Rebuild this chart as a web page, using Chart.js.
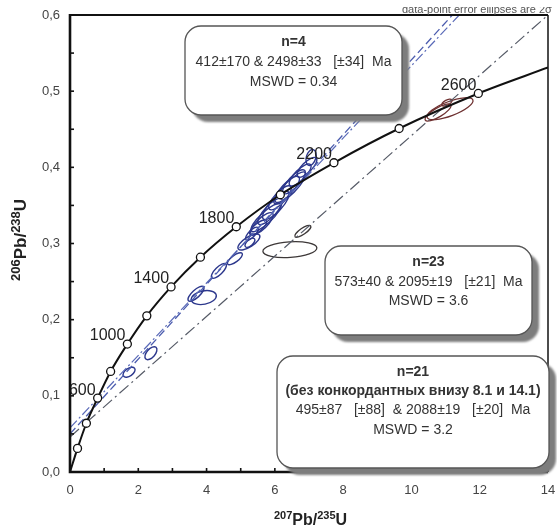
<!DOCTYPE html>
<html><head><meta charset="utf-8">
<script src="https://cdn.jsdelivr.net/npm/chart.js@4.4.1/dist/chart.umd.min.js"></script>
<style>html,body{margin:0;padding:0;background:#fff;overflow:hidden}canvas{display:block}</style>
</head><body>
<canvas id="c" width="557" height="528"></canvas>
<script>
// ---------- DATA ----------
// Concordia curve points (207Pb/235U, 206Pb/238U)
const concordiaX = [0, 0.22, 0.48, 0.81, 1.19, 1.68, 2.25, 2.96, 3.82, 4.87, 6.16, 7.73, 9.64, 11.96, 14];
const concordiaY = [0, 0.031, 0.064, 0.097, 0.132, 0.168, 0.205, 0.243, 0.282, 0.322, 0.364, 0.406, 0.451, 0.497, 0.531];
// Age markers (every 200 Ma)
const markerAges = [200, 400, 600, 800, 1000, 1200, 1400, 1600, 1800, 2000, 2200, 2400, 2600];
const markerX = [0.22, 0.48, 0.81, 1.19, 1.68, 2.25, 2.96, 3.82, 4.87, 6.16, 7.73, 9.64, 11.96];
const markerY = [0.031, 0.064, 0.097, 0.132, 0.168, 0.205, 0.243, 0.282, 0.322, 0.364, 0.406, 0.451, 0.497];
// Age labels shown on the curve
const ageLabels = ['600', '1000', '1400', '1800', '2200', '2600'];
const ageLabelX = [0.81, 1.68, 2.96, 4.87, 7.73, 11.96];
const ageLabelY = [0.097, 0.168, 0.243, 0.322, 0.406, 0.497];

// Discordia lines (end points)
const discN4X = [0, 14];     const discN4Y = [0.046, 0.600];
const discN23X = [0, 11.4];  const discN23Y = [0.058, 0.600];
const discN21X = [0, 11.2];  const discN21Y = [0.050, 0.600];

// Error ellipses: centre x, centre y, half extent x, half extent y, correlation
const blueX   = [1.73, 2.37, 3.92, 3.69, 4.36, 4.83, 5.24, 5.27, 5.33, 5.62, 5.86, 6.03, 6.15, 6.36, 6.56, 6.74, 6.94, 7.06, 5.74, 6.44, 5.51];
const blueY   = [0.131, 0.156, 0.229, 0.234, 0.264, 0.280, 0.302, 0.301, 0.313, 0.326, 0.342, 0.350, 0.360, 0.371, 0.381, 0.390, 0.400, 0.413, 0.334, 0.373, 0.321];
const blueEx  = [0.176, 0.176, 0.366, 0.234, 0.22, 0.22, 0.322, 0.146, 0.19, 0.33, 0.36, 0.39, 0.33, 0.36, 0.33, 0.32, 0.29, 0.15, 0.44, 0.47, 0.25];
const blueEy  = [0.0066, 0.0085, 0.0092, 0.0098, 0.0098, 0.0079, 0.0105, 0.0059, 0.0085, 0.0145, 0.0172, 0.0186, 0.0158, 0.0172, 0.0158, 0.0145, 0.013, 0.0105, 0.0185, 0.021, 0.0098];
const blueRho = [0.5, 0.55, 0.25, 0.75, 0.75, 0.75, 0.7, 0.6, 0.75, 0.78, 0.8, 0.8, 0.78, 0.8, 0.78, 0.78, 0.75, 0.3, 0.85, 0.86, 0.75];

const grayX = [6.44, 6.82];   const grayY = [0.292, 0.316];
const grayEx = [0.79, 0.234]; const grayEy = [0.0105, 0.0079]; const grayRho = [0.2, 0.8];

const redX = [11.13, 10.78, 11.04];   const redY = [0.477, 0.472, 0.485];
const redEx = [0.674, 0.38, 0.146];   const redEy = [0.0144, 0.0112, 0.0046]; const redRho = [0.72, 0.8, 0.6];

// Axis ticks
const xTickStep = 2, xMin = 0, xMax = 14;
const yTickStep = 0.1, yMin = 0, yMax = 0.6;

// Text boxes
const box1Lines = ['n=4', '412±170 & 2498±33   [±34]  Ma', 'MSWD = 0.34'];
const box2Lines = ['n=23', '573±40 & 2095±19   [±21]  Ma', 'MSWD = 3.6'];
const box3Lines = ['n=21', '(без конкордантных внизу 8.1 и 14.1)', '495±87   [±88]  & 2088±19   [±20]  Ma', 'MSWD = 3.2'];
const box1Bold = [true, false, false];
const box2Bold = [true, false, false];
const box3Bold = [true, true, false, false];
const topNote = 'data-point error ellipses are 2σ';

// ---------- DRAWING ----------
const FONT = '"Liberation Sans", Arial, Helvetica, sans-serif';
const pts = (xs, ys) => xs.map((x, i) => ({x: x, y: ys[i]}));

function drawEllipse(ctx, chart, x, y, ex, ey, rho) {
  const xs = chart.scales.x, ys = chart.scales.y;
  const cx = xs.getPixelForValue(x), cy = ys.getPixelForValue(y);
  const sx = Math.abs(xs.getPixelForValue(x + ex) - cx);
  const sy = Math.abs(ys.getPixelForValue(y + ey) - cy);
  const a = sx * sx, d = sy * sy, b = -rho * sx * sy;
  const m = (a + d) / 2, r = Math.sqrt(((a - d) / 2) ** 2 + b * b);
  const l1 = m + r, l2 = Math.max(m - r, 0.5);
  const th = 0.5 * Math.atan2(2 * b, a - d);
  ctx.beginPath();
  ctx.ellipse(cx, cy, Math.sqrt(l1), Math.sqrt(l2), th, 0, 2 * Math.PI);
  ctx.stroke();
}

function roundRect(ctx, x, y, w, h, r) {
  ctx.beginPath();
  ctx.moveTo(x + r, y);
  ctx.arcTo(x + w, y, x + w, y + h, r);
  ctx.arcTo(x + w, y + h, x, y + h, r);
  ctx.arcTo(x, y + h, x, y, r);
  ctx.arcTo(x, y, x + w, y, r);
  ctx.closePath();
}

function drawBox(ctx, x, y, w, h, lines, bold, ys) {
  ctx.save();
  ctx.filter = 'blur(1px)';
  roundRect(ctx, x + 7, y + 7, w, h, 16);
  ctx.fillStyle = '#7d7d7d';
  ctx.fill();
  ctx.restore();
  ctx.save();
  roundRect(ctx, x, y, w, h, 16);
  ctx.fillStyle = '#ffffff';
  ctx.fill();
  ctx.lineWidth = 1.3;
  ctx.strokeStyle = '#555';
  ctx.stroke();
  ctx.fillStyle = '#333';
  ctx.textAlign = 'center';
  ctx.textBaseline = 'middle';
  lines.forEach((t, i) => {
    ctx.font = (bold[i] ? 'bold ' : '') + '14px ' + FONT;
    ctx.fillText(t, x + w / 2, ys[i]);
  });
  ctx.restore();
}

function drawRich(ctx, parts, x, y) {
  let cx = x;
  parts.forEach(p => {
    ctx.font = 'bold ' + p[1] + 'px ' + FONT;
    ctx.fillText(p[0], cx, y - p[2]);
    cx += ctx.measureText(p[0]).width;
  });
}

const decorPlugin = {
  id: 'decor',
  beforeDatasetsDraw(chart) {
    const ctx = chart.ctx, ca = chart.chartArea;
    ctx.save();
    ctx.beginPath(); ctx.rect(ca.left, ca.top, ca.right - ca.left, ca.bottom - ca.top); ctx.clip();
    ctx.lineWidth = 1.3;
    ctx.strokeStyle = '#6e3030';
    redX.forEach((v, i) => drawEllipse(ctx, chart, v, redY[i], redEx[i], redEy[i], redRho[i]));
    ctx.strokeStyle = '#3d3838';
    grayX.forEach((v, i) => drawEllipse(ctx, chart, v, grayY[i], grayEx[i], grayEy[i], grayRho[i]));
    ctx.lineWidth = 1.4;
    ctx.strokeStyle = '#2c378c';
    blueX.forEach((v, i) => drawEllipse(ctx, chart, v, blueY[i], blueEx[i], blueEy[i], blueRho[i]));
    ctx.restore();
  },
  afterDatasetsDraw(chart) {
    const ctx = chart.ctx, ca = chart.chartArea;
    const xs = chart.scales.x, ys = chart.scales.y;
    // age labels
    ctx.save();
    ctx.fillStyle = '#222';
    ctx.font = '16px ' + FONT;
    ctx.textAlign = 'right';
    ctx.textBaseline = 'middle';
    ageLabels.forEach((t, i) => {
      ctx.fillText(t, xs.getPixelForValue(ageLabelX[i]) - 2, ys.getPixelForValue(ageLabelY[i]) - 8);
    });
    ctx.restore();
    // frame
    ctx.save();
    ctx.strokeStyle = '#111';
    ctx.lineWidth = 2;
    ctx.beginPath(); ctx.moveTo(ca.left - 1, ca.top); ctx.lineTo(ca.right, ca.top); ctx.stroke();
    ctx.lineWidth = 1.5;
    ctx.beginPath(); ctx.moveTo(ca.right, ca.top); ctx.lineTo(ca.right, ca.bottom); ctx.stroke();
    // inward ticks
    ctx.lineWidth = 1.6;
    for (let v = yMin; v <= yMax + 1e-9; v += yTickStep / 2) {
      const p = ys.getPixelForValue(v);
      ctx.beginPath(); ctx.moveTo(ca.left, p); ctx.lineTo(ca.left + 4, p); ctx.stroke();
    }
    for (let v = xMin; v <= xMax + 1e-9; v += xTickStep / 2) {
      const p = xs.getPixelForValue(v);
      ctx.beginPath(); ctx.moveTo(p, ca.bottom); ctx.lineTo(p, ca.bottom - 4); ctx.stroke();
    }
    ctx.restore();
    // boxes
    drawBox(ctx, 185, 26, 217, 89, box1Lines, box1Bold, [42, 62, 82]);
    drawBox(ctx, 325, 246, 207, 89, box2Lines, box2Bold, [262, 282, 301]);
    // left/bottom axis lines
    ctx.save();
    ctx.strokeStyle = '#111';
    ctx.lineWidth = 2.6;
    ctx.beginPath(); ctx.moveTo(ca.left, ca.top - 1); ctx.lineTo(ca.left, ca.bottom); ctx.lineTo(ca.right, ca.bottom); ctx.stroke();
    ctx.restore();
    drawBox(ctx, 277, 356, 272, 112, box3Lines, box3Bold, [372, 391, 410, 430]);
    // axis titles
    ctx.save();
    ctx.fillStyle = '#222';
    ctx.textAlign = 'left';
    ctx.textBaseline = 'alphabetic';
    drawRich(ctx, [['207', 11, 6], ['Pb', 16, 0], ['/', 16, 0], ['235', 11, 6], ['U', 16, 0]], 274, 525);
    ctx.translate(26, 281);
    ctx.rotate(-Math.PI / 2);
    drawRich(ctx, [['206', 13, 6], ['Pb', 17, 0], ['/', 17, 0], ['238', 13, 6], ['U', 17, 0]], 0, 0);
    ctx.restore();
    // top note (cut at the top edge)
    ctx.save();
    ctx.beginPath(); ctx.rect(380, 7, 177, 10); ctx.clip();
    ctx.fillStyle = '#555';
    ctx.font = '11px ' + FONT;
    ctx.textAlign = 'left';
    ctx.textBaseline = 'alphabetic';
    ctx.fillText(topNote, 402, 13);
    ctx.restore();
  }
};

new Chart(document.getElementById('c'), {
  type: 'scatter',
  data: {
    datasets: [
      { label: 'markers', data: pts(markerX, markerY), pointRadius: 4, pointBackgroundColor: '#fff',
        pointBorderColor: '#111', pointBorderWidth: 1.3, showLine: false },
      { label: 'concordia', data: pts(concordiaX, concordiaY), showLine: true, borderColor: '#111',
        borderWidth: 2, pointRadius: 0, cubicInterpolationMode: 'monotone', fill: false },
      { label: 'n=21', data: pts(discN21X, discN21Y), showLine: true, borderColor: '#4b5cae',
        borderWidth: 1.3, borderDash: [8, 4], pointRadius: 0 },
      { label: 'n=23', data: pts(discN23X, discN23Y), showLine: true, borderColor: '#5a6ab8',
        borderWidth: 1.2, borderDash: [10, 3, 2, 3], pointRadius: 0 },
      { label: 'n=4', data: pts(discN4X, discN4Y), showLine: true, borderColor: '#555a66',
        borderWidth: 1.2, borderDash: [12, 4, 2, 4], pointRadius: 0 }
    ]
  },
  options: {
    responsive: false,
    animation: false,
    devicePixelRatio: 1,
    layout: { padding: { top: 15, right: 9, left: 0, bottom: 0 } },
    plugins: { legend: { display: false }, tooltip: { enabled: false } },
    scales: {
      x: {
        type: 'linear', min: xMin, max: xMax,
        grid: { display: false, drawTicks: false },
        border: { display: false },
        ticks: { stepSize: xTickStep, padding: 11, color: '#444', font: { size: 13, family: FONT }, maxRotation: 0, autoSkip: false },
        afterFit(s) { s.height = 56; s.paddingLeft = 0; s.paddingRight = 0; }
      },
      y: {
        type: 'linear', min: yMin, max: yMax,
        grid: { display: false, drawTicks: false },
        border: { display: false },
        ticks: { stepSize: yTickStep, padding: 10, color: '#444', font: { size: 13, family: FONT },
          callback: v => Number(v).toFixed(1).replace('.', ',') },
        afterFit(s) { s.width = 70; s.paddingTop = 0; s.paddingBottom = 0; }
      }
    }
  },
  plugins: [decorPlugin]
});
</script>
</body></html>
